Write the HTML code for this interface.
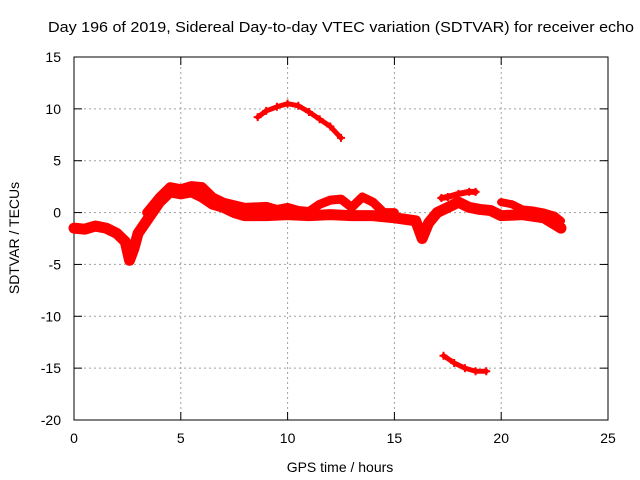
<!DOCTYPE html>
<html><head><meta charset="utf-8"><style>
body{margin:0;background:#fff}
svg{display:block;font-family:"Liberation Sans",sans-serif}
</style></head><body>
<svg id="chart" width="640" height="480" viewBox="0 0 640 480">
<rect width="640" height="480" fill="#fff"/>
<text x="48" y="32" font-size="15" textLength="586" lengthAdjust="spacingAndGlyphs">Day 196 of 2019, Sidereal Day-to-day VTEC variation (SDTVAR) for receiver echo</text>
<g id="grid"></g>
<g id="axes"></g>
<g id="series"></g>
<text x="340" y="472" font-size="14" text-anchor="middle">GPS time / hours</text>
<text transform="translate(19,238) rotate(-90)" font-size="14" text-anchor="middle">SDTVAR / TECUs</text>
</svg>
<script>
const xTicks=[0,5,10,15,20,25];
const yTicks=[15,10,5,0,-5,-10,-15,-20];
const lowerBand=[[0,-1.5],[0.5,-1.6],[1,-1.3],[1.5,-1.5],[2,-2],[2.4,-2.8],[2.6,-4.6],[2.8,-3.5],[3,-2],[3.5,-0.5],[4,1],[4.5,2],[5,1.8],[5.5,2],[6,1.5],[6.5,0.8],[7,0.5],[7.5,0],[8,-0.3],[9,-0.3],[10,-0.2],[11,-0.3],[12,-0.2],[13,-0.3],[14,-0.3],[15,-0.5],[16,-0.8],[16.3,-2.5],[16.6,-1],[17,0],[17.5,0.5],[18,1],[18.5,0.5],[19,0.3],[19.5,0.2],[20,-0.3],[21,-0.2],[22,-0.5],[22.8,-1.5]];
const upperBand=[[3.4,0],[4,1.5],[4.5,2.5],[5,2.3],[5.5,2.6],[6,2.5],[6.5,1.5],[7,1],[8,0.5],[9,0.6],[9.5,0.3],[10,0.5],[10.5,0.2],[11,0.1],[11.5,0.8],[12,1.2],[12.5,1.3],[13,0.5],[13.5,1.5],[14,1],[14.5,0],[15,0]];
const rightUpper=[[17.2,1.4],[17.5,1.5],[18,1.8],[18.5,2],[18.8,2]];
const rightTail=[[20,1],[20.5,0.8],[21,0.3],[21.5,0.2],[22,0],[22.5,-0.3],[22.8,-0.8]];
const highArc=[[8.6,9.2],[9,9.8],[9.5,10.2],[10,10.5],[10.5,10.3],[11,9.7],[11.5,9],[12,8.3],[12.5,7.2]];
const lowArc=[[17.3,-13.8],[17.8,-14.5],[18.3,-15],[18.8,-15.3],[19.3,-15.3]];
const X=v=>74+v*(534/25), Y=v=>57+(15-v)*(363/35);
const NS='http://www.w3.org/2000/svg';
function mk(t,a,p){const e=document.createElementNS(NS,t);for(const k in a)e.setAttribute(k,a[k]);p.appendChild(e);return e;}
const g=document.getElementById('grid'),ax=document.getElementById('axes'),s=document.getElementById('series');
xTicks.forEach(v=>{
 if(v>0&&v<25){const l=mk('line',{x1:X(v),x2:X(v),y1:57,y2:420,stroke:'#a0a0a0','stroke-dasharray':'2,3'},g);
 
 }
 mk('line',{x1:X(v),x2:X(v),y1:420,y2:412,stroke:'#000'},ax);
 mk('line',{x1:X(v),x2:X(v),y1:57,y2:65,stroke:'#000'},ax);
 const t=mk('text',{x:X(v),y:443,'font-size':14,'text-anchor':'middle'},ax);t.textContent=v;
 
 
});
yTicks.forEach(v=>{
 if(v<15&&v>-20){const l=mk('line',{x1:74,x2:608,y1:Y(v),y2:Y(v),stroke:'#a0a0a0','stroke-dasharray':'2,3'},g);
 
 }
 mk('line',{x1:74,x2:82,y1:Y(v),y2:Y(v),stroke:'#000'},ax);
 mk('line',{x1:608,x2:600,y1:Y(v),y2:Y(v),stroke:'#000'},ax);
 const t=mk('text',{x:61,y:Y(v)+5,'font-size':14,'text-anchor':'end'},ax);t.textContent=v;
 
 
});
mk('rect',{x:74,y:57,width:534,height:363,fill:'none',stroke:'#000'},ax);
function draw(d,w,name){
 const p=mk('polyline',{points:d.map(q=>X(q[0])+','+Y(q[1])).join(' '),fill:'none',stroke:'#f00','stroke-width':w,'stroke-linejoin':'round','stroke-linecap':'round'},s);
 
 
 d.forEach(q=>{const m=mk('path',{d:`M${X(q[0])-4},${Y(q[1])}h8M${X(q[0])},${Y(q[1])-4}v8`,stroke:'#f00','stroke-width':2},s);
  
  });
}
draw(lowerBand,11,'lower-band-series');
draw(upperBand,9,'upper-band-series');
draw(rightUpper,6,'right-upper-series');
draw(rightTail,8,'right-tail-series');
draw(highArc,5,'high-arc-series');
draw(lowArc,5,'low-arc-series');
</script>
</body></html>
